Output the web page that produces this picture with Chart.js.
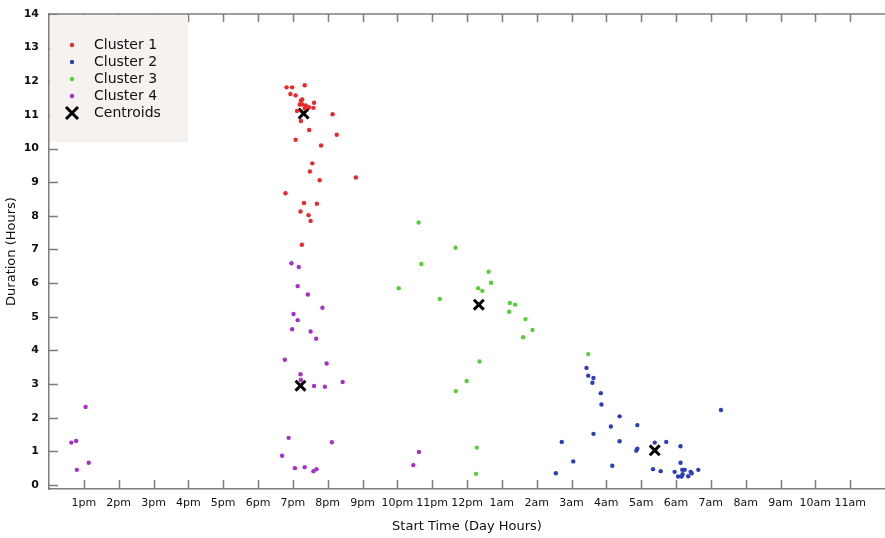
<!DOCTYPE html>
<html>
<head>
<meta charset="utf-8">
<title>Clusters</title>
<script src="https://cdn.jsdelivr.net/npm/chart.js@4/dist/chart.umd.min.js"></script>
<style>
  body { margin: 0; background: #fff; }
  canvas { display: block; }
</style>
</head>
<body>
<canvas id="chart" width="885" height="538"></canvas>
<script>
// hours after noon (0 = 12pm), duration in hours
const cluster1Start = [6.82, 6.98, 7.34, 6.93, 7.08, 7.27, 7.23, 7.61, 7.20, 7.27, 7.37, 7.46, 7.59, 7.34, 7.12, 7.23, 8.14, 7.47, 8.26, 7.08, 7.81, 7.56, 7.49, 7.77, 8.81, 6.79, 7.32, 7.69, 7.22, 7.45, 7.51, 7.26];
const cluster1Dur = [11.82, 11.82, 11.88, 11.62, 11.58, 11.46, 11.42, 11.36, 11.31, 11.31, 11.28, 11.23, 11.21, 11.19, 11.12, 10.82, 11.02, 10.55, 10.41, 10.26, 10.09, 9.56, 9.32, 9.06, 9.14, 8.67, 8.38, 8.36, 8.13, 8.02, 7.85, 7.14];

const cluster2Start = [15.43, 15.48, 15.63, 15.60, 15.84, 15.86, 16.38, 16.13, 16.89, 15.63, 14.72, 16.38, 16.89, 16.86, 17.39, 17.72, 18.13, 19.29, 15.05, 14.55, 16.17, 17.34, 17.56, 18.13, 17.96, 18.18, 18.25, 18.19, 18.06, 18.16, 18.35, 18.45, 18.42, 18.64];
const cluster2Dur = [3.48, 3.25, 3.18, 3.04, 2.73, 2.39, 2.04, 1.74, 1.78, 1.52, 1.28, 1.30, 1.08, 1.02, 1.26, 1.28, 1.15, 2.23, 0.70, 0.35, 0.57, 0.47, 0.41, 0.66, 0.39, 0.45, 0.45, 0.32, 0.25, 0.25, 0.26, 0.35, 0.39, 0.45];

const cluster3Start = [10.61, 11.67, 10.69, 10.04, 11.22, 12.62, 12.69, 12.32, 12.44, 13.23, 13.38, 13.21, 13.68, 13.88, 13.61, 12.36, 11.99, 11.68, 12.28, 12.26, 15.48];
const cluster3Dur = [7.80, 7.05, 6.57, 5.85, 5.53, 6.34, 6.01, 5.85, 5.77, 5.41, 5.36, 5.15, 4.93, 4.61, 4.39, 3.67, 3.09, 2.79, 1.11, 0.33, 3.89];

const cluster4Start = [6.96, 7.17, 7.14, 7.43, 7.85, 7.02, 7.14, 6.98, 7.51, 7.67, 6.77, 7.97, 7.22, 7.23, 7.61, 7.92, 8.43, 6.88, 8.12, 6.69, 7.06, 7.34, 7.59, 7.68, 1.05, 0.64, 0.78, 1.14, 0.80, 10.62, 10.46];
const cluster4Dur = [6.59, 6.48, 5.91, 5.66, 5.27, 5.08, 4.90, 4.63, 4.56, 4.35, 3.72, 3.61, 3.29, 3.12, 2.94, 2.92, 3.06, 1.40, 1.27, 0.87, 0.50, 0.53, 0.41, 0.47, 2.32, 1.26, 1.31, 0.66, 0.45, 0.98, 0.59];

const centroidStart = [7.31, 17.39, 12.34, 7.22];
const centroidDur = [11.04, 1.03, 5.36, 2.95];

const xTickValues = [1, 2, 3, 4, 5, 6, 7, 8, 9, 10, 11, 12, 13, 14, 15, 16, 17, 18, 19, 20, 21, 22, 23];
const xTickLabels = ["1pm", "2pm", "3pm", "4pm", "5pm", "6pm", "7pm", "8pm", "9pm", "10pm", "11pm", "12pm",
  "1am", "2am", "3am", "4am", "5am", "6am", "7am", "8am", "9am", "10am", "11am"];
const yTickValues = [0, 1, 2, 3, 4, 5, 6, 7, 8, 9, 10, 11, 12, 13, 14];

const seriesNames = ["Cluster 1", "Cluster 2", "Cluster 3", "Cluster 4", "Centroids"];
const seriesColors = ["#e8282c", "#2f3cb8", "#5acd3e", "#a233c6", "#000000"];

const toPoints = (xs, ys) => xs.map((x, i) => ({ x, y: ys[i] }));

const axisColor = "#7d7d7d";

function dot(i, xs, ys) {
  return {
    label: seriesNames[i],
    data: toPoints(xs, ys),
    pointStyle: "circle",
    pointRadius: 2.2,
    pointBorderWidth: 0,
    backgroundColor: seriesColors[i],
    borderColor: seriesColors[i],
    showLine: false
  };
}

// inward tick marks, top border and the legend box
const framePlugin = {
  id: "frame",
  afterDraw(chart) {
    const { ctx, chartArea: a, scales: { x, y } } = chart;
    ctx.save();
    ctx.strokeStyle = axisColor;
    ctx.lineWidth = 1.5;
    ctx.beginPath();
    ctx.moveTo(a.left, a.top);
    ctx.lineTo(a.right, a.top);
    xTickValues.forEach(v => {
      const px = Math.round(x.getPixelForValue(v)) + 0.5;
      ctx.moveTo(px, a.bottom);
      ctx.lineTo(px, a.bottom - 9);
      ctx.moveTo(px, a.top);
      ctx.lineTo(px, a.top + 8);
    });
    yTickValues.forEach(v => {
      const py = Math.round(y.getPixelForValue(v)) + 0.5;
      ctx.moveTo(a.left, py);
      ctx.lineTo(a.left + 9, py);
    });
    ctx.stroke();

    // legend
    const bx = a.left + 1, by = a.top + 1;
    ctx.fillStyle = "#f5f2f0";
    ctx.fillRect(bx, by, 138, 127);
    ctx.font = "14px 'DejaVu Sans'";
    ctx.textBaseline = "middle";
    seriesNames.forEach((name, i) => {
      const ry = a.top + 31 + i * 17;
      const mx = a.left + 23;
      if (i < 4) {
        ctx.fillStyle = seriesColors[i];
        ctx.beginPath();
        ctx.arc(mx, ry, 2.2, 0, Math.PI * 2);
        ctx.fill();
      } else {
        ctx.strokeStyle = "#000";
        ctx.lineWidth = 3;
        ctx.beginPath();
        ctx.moveTo(mx - 6, ry - 6);
        ctx.lineTo(mx + 6, ry + 6);
        ctx.moveTo(mx + 6, ry - 6);
        ctx.lineTo(mx - 6, ry + 6);
        ctx.stroke();
      }
      ctx.fillStyle = "#111";
      ctx.fillText(name, a.left + 45, ry);
    });
    ctx.restore();
  }
};

new Chart(document.getElementById("chart"), {
  type: "scatter",
  data: {
    datasets: [
      dot(0, cluster1Start, cluster1Dur),
      dot(1, cluster2Start, cluster2Dur),
      dot(2, cluster3Start, cluster3Dur),
      dot(3, cluster4Start, cluster4Dur),
      {
        label: seriesNames[4],
        data: toPoints(centroidStart, centroidDur),
        pointStyle: "crossRot",
        pointRadius: 7,
        pointBorderWidth: 3,
        borderColor: "#000",
        backgroundColor: "#000"
      }
    ]
  },
  options: {
    responsive: false,
    animation: false,
    layout: { autoPadding: false, padding: { top: 14, right: 0, left: 0, bottom: 0 } },
    plugins: {
      legend: { display: false },
      tooltip: { enabled: false }
    },
    scales: {
      x: {
        type: "linear",
        min: 0,
        max: 24,
        afterBuildTicks: s => { s.ticks = xTickValues.map(v => ({ value: v })); },
        afterFit: s => {
          s.height = 49;
          s.paddingLeft = 0;
          s.paddingRight = 0;
        },
        grid: { drawOnChartArea: false, drawTicks: false },
        border: { color: axisColor, width: 1.5 },
        ticks: {
          padding: 8,
          maxRotation: 0,
          autoSkip: false,
          color: "#111",
          font: { family: "DejaVu Sans", size: 11 },
          callback: v => xTickLabels[xTickValues.indexOf(v)] || ""
        },
        title: {
          display: true,
          text: "Start Time (Day Hours)",
          color: "#111",
          font: { family: "DejaVu Sans", size: 13 },
          padding: { top: 0, bottom: 4 }
        }
      },
      y: {
        type: "linear",
        min: -0.12,
        max: 14,
        afterBuildTicks: s => { s.ticks = yTickValues.map(v => ({ value: v })); },
        afterFit: s => {
          s.width = 49;
          s.paddingTop = 0;
          s.paddingBottom = 0;
        },
        grid: { drawOnChartArea: false, drawTicks: false },
        border: { color: axisColor, width: 1.5 },
        ticks: {
          padding: 10,
          color: "#111",
          font: { family: "DejaVu Sans", size: 11, weight: "bold" }
        },
        title: {
          display: true,
          text: "Duration (Hours)",
          color: "#111",
          font: { family: "DejaVu Sans", size: 13 },
          padding: { top: 4, bottom: 0 }
        }
      }
    }
  },
  plugins: [framePlugin]
});
</script>
</body>
</html>
